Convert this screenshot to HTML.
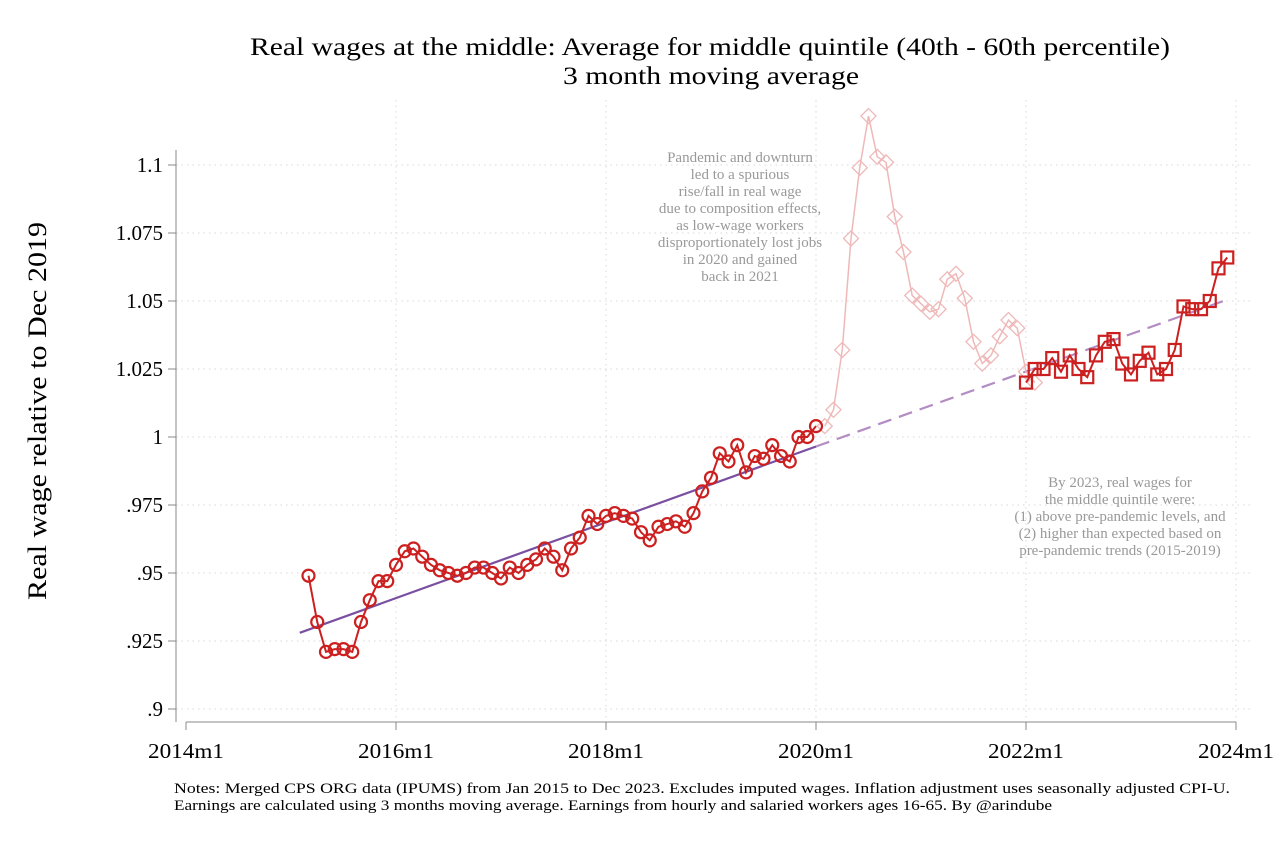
<!DOCTYPE html>
<html><head><meta charset="utf-8"><style>
body{margin:0;background:#fff;}
svg{display:block;font-family:"Liberation Serif",serif;}
</style></head><body>
<svg id="chart" width="1284" height="848">
<rect x="0" y="0" width="1284" height="848" fill="#fff"/>
<text x="250" y="55" font-size="25" textLength="920" lengthAdjust="spacingAndGlyphs">Real wages at the middle: Average for middle quintile (40th - 60th percentile)</text>
<text x="563" y="84" font-size="25" textLength="296" lengthAdjust="spacingAndGlyphs">3 month moving average</text>
<text transform="translate(46,411) rotate(-90)" font-size="26" text-anchor="middle" textLength="378" lengthAdjust="spacingAndGlyphs">Real wage  relative to Dec 2019</text>
<g id="grid"></g><g id="axes"></g><g id="trend"></g><g id="series"></g>
<text font-size="15" fill="#999" text-anchor="middle">
<tspan x="740" y="162">Pandemic and downturn</tspan><tspan x="740" y="179">led to a spurious</tspan><tspan x="740" y="196">rise/fall in real wage</tspan><tspan x="740" y="213">due to composition effects,</tspan><tspan x="740" y="230">as low-wage workers</tspan><tspan x="740" y="247">disproportionately lost jobs</tspan><tspan x="740" y="264">in 2020 and gained</tspan><tspan x="740" y="281">back in 2021</tspan></text>
<text font-size="15" fill="#999" text-anchor="middle">
<tspan x="1120" y="487">By 2023, real wages for</tspan><tspan x="1120" y="504">the middle quintile were:</tspan><tspan x="1120" y="521">(1) above pre-pandemic levels, and</tspan><tspan x="1120" y="538">(2) higher than expected based on</tspan><tspan x="1120" y="555">pre-pandemic trends (2015-2019)</tspan></text>
<text x="174" y="793" font-size="15" textLength="1056" lengthAdjust="spacingAndGlyphs">Notes: Merged CPS ORG data (IPUMS) from Jan 2015 to Dec 2023. Excludes imputed wages. Inflation adjustment uses seasonally adjusted CPI-U.</text>
<text x="174" y="810" font-size="15" textLength="878" lengthAdjust="spacingAndGlyphs">Earnings are calculated using 3 months moving average. Earnings from hourly and salaried workers ages 16-65. By @arindube</text>
</svg>
<script>
const yTicks=[0.9,0.925,0.95,0.975,1,1.025,1.05,1.075,1.1];
const yTickLabels=[".9",".925",".95",".975","1","1.025","1.05","1.075","1.1"];
const xTicks=[0,24,48,72,96,120];
const xTickLabels=["2014m1","2016m1","2018m1","2020m1","2022m1","2024m1"];
const preStart=14;
const preValues=[.949,.932,.921,.922,.922,.921,.932,.940,.947,.947,.953,.958,.959,.956,.953,.951,.950,.949,.950,.952,.952,.950,.948,.952,.950,.953,.955,.959,.956,.951,.959,.963,.971,.968,.971,.972,.971,.970,.965,.962,.967,.968,.969,.967,.972,.980,.985,.994,.991,.997,.987,.993,.992,.997,.993,.991,1.000,1.000,1.004];
const panStart=73;
const panValues=[1.004,1.010,1.032,1.073,1.099,1.118,1.103,1.101,1.081,1.068,1.052,1.049,1.046,1.047,1.058,1.060,1.051,1.035,1.027,1.030,1.037,1.043,1.040,1.024,1.020];
const postStart=96;
const postValues=[1.020,1.025,1.025,1.029,1.024,1.030,1.025,1.022,1.030,1.035,1.036,1.027,1.023,1.028,1.031,1.023,1.025,1.032,1.048,1.047,1.047,1.050,1.062,1.066];
const trendStart=[13,0.928];
const trendBreak=[72,0.9965];
const trendEnd=[119,1.0505];
const NS="http://www.w3.org/2000/svg";
const X=m=>186+m*8.75;
const Y=v=>437-(v-1)*2720;
function mk(tag,attrs,parent){const e=document.createElementNS(NS,tag);for(const k in attrs)e.setAttribute(k,attrs[k]);parent.appendChild(e);return e;}
const grid=document.getElementById('grid'),axes=document.getElementById('axes'),trend=document.getElementById('trend'),series=document.getElementById('series');
yTicks.forEach((t,i)=>{
 const g=mk('line',{x1:176,x2:1250,y1:Y(t),y2:Y(t),stroke:'#d8d8d8','stroke-dasharray':'1.5 4'},grid);
 
 
 mk('line',{x1:168,x2:176,y1:Y(t),y2:Y(t),stroke:'#888'},axes);
 const l=mk('text',{x:163,y:Y(t)+7,'font-size':21,'text-anchor':'end'},axes);l.textContent=yTickLabels[i];
 
 
});
xTicks.forEach((t,i)=>{
 if(i>0){const g=mk('line',{x1:X(t),x2:X(t),y1:100,y2:722,stroke:'#d8d8d8','stroke-dasharray':'1.5 4'},grid);
 
 }
 mk('line',{x1:X(t),x2:X(t),y1:722,y2:730,stroke:'#888'},axes);
 const l=mk('text',{x:X(t)-38,y:758,'font-size':21,textLength:76,lengthAdjust:'spacingAndGlyphs'},axes);l.textContent=xTickLabels[i];
 
 
});
const ya=mk('line',{x1:176,x2:176,y1:150,y2:722,stroke:'#888'},axes);


const xa=mk('line',{x1:186,x2:1236,y1:722,y2:722,stroke:'#888'},axes);


const t1=mk('line',{x1:X(trendStart[0]),y1:Y(trendStart[1]),x2:X(trendBreak[0]),y2:Y(trendBreak[1]),stroke:'#7a4fa0','stroke-width':2.2},trend);


const t2=mk('line',{x1:X(trendBreak[0]),y1:Y(trendBreak[1]),x2:X(trendEnd[0]),y2:Y(trendEnd[1]),stroke:'#b48cc4','stroke-width':2.2,'stroke-dasharray':'14 8'},trend);


function drawSeries(start,vals,color,shape,name,w){
 const pts=vals.map((v,i)=>X(start+i)+','+Y(v)).join(' ');
 const pl=mk('polyline',{points:pts,fill:'none',stroke:color,'stroke-width':w},series);
 
 
 vals.forEach((v,i)=>{const x=X(start+i),y=Y(v);let m;
  if(shape==='circle')m=mk('circle',{cx:x,cy:y,r:6,fill:'none',stroke:color,'stroke-width':2.2},series);
  else if(shape==='square')m=mk('rect',{x:x-6,y:y-6,width:12,height:12,fill:'none',stroke:color,'stroke-width':2.2},series);
  else m=mk('polygon',{points:`${x},${y-7.5} ${x+7.5},${y} ${x},${y+7.5} ${x-7.5},${y}`,fill:'none',stroke:color,'stroke-width':1.3},series);
  
  });
}
drawSeries(panStart,panValues,'#efb8b8','diamond','pandemic-series',1.5);
drawSeries(preStart,preValues,'#cc2020','circle','pre-pandemic-series',2);
drawSeries(postStart,postValues,'#cc2020','square','post-pandemic-series',2);
</script>
</body></html>
